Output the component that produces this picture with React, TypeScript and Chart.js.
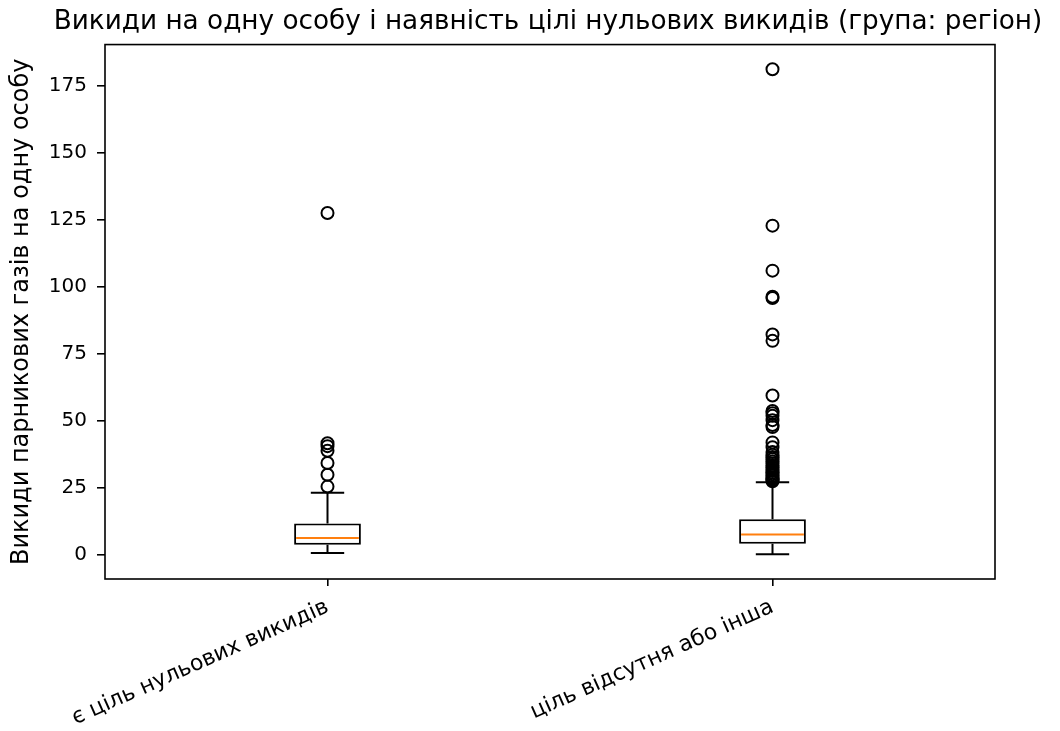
import React, { useEffect, useRef } from "react";
import { Chart, registerables } from "chart.js";

Chart.register(...registerables);

const titleText = "Викиди на одну особу і наявність цілі нульових викидів (група: регіон)";
const yAxisLabel = "Викиди парникових газів на одну особу";

const categories = ["є ціль нульових викидів", "ціль відсутня або інша"];
const q1Values = [3.7, 4.1];
const medianValues = [6.2, 7.5];
const q3Values = [11.6, 13.2];
const whiskerLow = [0.6, 0.1];
const whiskerHigh = [23.1, 27.0];
const outliersGroup1 = [25.4, 29.8, 34.2, 38.8, 40.5, 41.6, 127.5];
const outliersGroup2 = [
  27.4, 27.8, 28.3, 28.8, 29.4, 30.0, 30.6, 31.2, 31.8, 32.5, 33.2, 34.0,
  34.8, 35.6, 36.4, 37.3, 38.3, 40.1, 41.9, 47.6, 48.4, 50.2, 51.8, 52.8,
  53.6, 59.4, 79.8, 82.2, 95.8, 96.3, 106.0, 122.8, 181.2,
];
const yTicks = [0, 25, 50, 75, 100, 125, 150, 175];
const yMin = -9.1;
const yMax = 190.4;

const LW = 2;
const FONT_FAMILY = "'DejaVu Sans', sans-serif";

const boxPlugin = {
  id: "boxWhiskers",
  beforeDatasetsDraw(chart: any) {
    const { ctx } = chart;
    const x = chart.scales.x;
    const y = chart.scales.y;
    const meta = chart.getDatasetMeta(0);
    ctx.save();
    ctx.strokeStyle = "#000";
    ctx.lineWidth = LW;
    categories.forEach((_, i) => {
      const px = x.getPixelForValue(i);
      const bw = meta.data[i] ? meta.data[i].width : 66;
      const half = bw / 4;
      ctx.beginPath();
      ctx.moveTo(px, y.getPixelForValue(q3Values[i]));
      ctx.lineTo(px, y.getPixelForValue(whiskerHigh[i]));
      ctx.moveTo(px, y.getPixelForValue(q1Values[i]));
      ctx.lineTo(px, y.getPixelForValue(whiskerLow[i]));
      ctx.moveTo(px - half, y.getPixelForValue(whiskerHigh[i]));
      ctx.lineTo(px + half, y.getPixelForValue(whiskerHigh[i]));
      ctx.moveTo(px - half, y.getPixelForValue(whiskerLow[i]));
      ctx.lineTo(px + half, y.getPixelForValue(whiskerLow[i]));
      ctx.stroke();
    });
    ctx.restore();
  },
  afterDatasetsDraw(chart: any) {
    const { ctx } = chart;
    const x = chart.scales.x;
    const y = chart.scales.y;
    const meta = chart.getDatasetMeta(0);
    ctx.save();
    ctx.strokeStyle = "#ff7f0e";
    ctx.lineWidth = LW;
    categories.forEach((_, i) => {
      const px = x.getPixelForValue(i);
      const bw = meta.data[i] ? meta.data[i].width : 66;
      const py = y.getPixelForValue(medianValues[i]);
      ctx.beginPath();
      ctx.moveTo(px - bw / 2 + LW, py);
      ctx.lineTo(px + bw / 2 - LW, py);
      ctx.stroke();
    });
    ctx.restore();
  },
  afterDraw(chart: any) {
    const { ctx, chartArea } = chart;
    ctx.save();
    ctx.strokeStyle = "#000";
    ctx.lineWidth = 1.6;
    ctx.strokeRect(
      chartArea.left,
      chartArea.top,
      chartArea.right - chartArea.left,
      chartArea.bottom - chartArea.top
    );
    ctx.restore();
  },
};

export default function App() {
  const canvasRef = useRef<HTMLCanvasElement | null>(null);

  useEffect(() => {
    document.body.style.margin = "0";
    const canvas = canvasRef.current;
    if (!canvas) return;
    const chart = new Chart(canvas, {
      type: "bar",
      data: {
        labels: categories,
        datasets: [
          {
            type: "bar",
            data: categories.map((_, i) => [q1Values[i], q3Values[i]]),
            backgroundColor: "#ffffff",
            borderColor: "#000000",
            borderWidth: LW,
            borderSkipped: false,
            barPercentage: 0.15,
            categoryPercentage: 1.0,
            order: 2,
          } as any,
          {
            type: "line",
            data: [
              ...outliersGroup1.map((v) => ({ x: categories[0], y: v })),
              ...outliersGroup2.map((v) => ({ x: categories[1], y: v })),
            ],
            showLine: false,
            pointRadius: 6,
            pointHoverRadius: 6,
            pointBorderColor: "#000000",
            pointBackgroundColor: "rgba(0,0,0,0)",
            pointBorderWidth: LW,
            order: 1,
          } as any,
        ],
      },
      options: {
        responsive: false,
        animation: false,
        devicePixelRatio: 1,
        layout: { padding: { left: 46, right: 10, top: 0, bottom: 0 } },
        plugins: {
          legend: { display: false },
          tooltip: { enabled: false },
          title: {
            display: true,
            text: titleText,
            fullSize: true,
            color: "#000",
            font: { family: FONT_FAMILY, size: 26.3, weight: "normal" },
            padding: { top: 6, bottom: 7 },
          } as any,
        },
        scales: {
          x: {
            type: "category",
            offset: true,
            grid: {
              offset: false,
              drawOnChartArea: false,
              drawTicks: true,
              tickLength: 7,
              color: "#000",
              lineWidth: 1.6,
            },
            border: { display: false },
            ticks: {
              color: "#000",
              font: { family: FONT_FAMILY, size: 22 },
              minRotation: 24,
              maxRotation: 24,
              autoSkip: false,
              padding: 8,
            },
            afterFit(scale: any) {
              scale.height = 152;
            },
          },
          y: {
            type: "linear",
            position: "left",
            min: yMin,
            max: yMax,
            grid: {
              drawOnChartArea: false,
              drawTicks: true,
              tickLength: 8,
              color: "#000",
              lineWidth: 1.6,
            },
            border: { display: false },
            ticks: {
              color: "#000",
              font: { family: FONT_FAMILY, size: 20 },
              padding: 10,
            },
            afterBuildTicks(scale: any) {
              scale.ticks = yTicks.map((v) => ({ value: v }));
            },
            afterFit(scale: any) {
              scale.width = 59;
            },
            title: {
              display: true,
              text: yAxisLabel,
              color: "#000",
              font: { family: FONT_FAMILY, size: 24 },
              padding: { top: -38.4, bottom: 0 },
            },
          },
          yRight: {
            type: "linear",
            position: "right",
            display: true,
            min: 0,
            max: 1,
            grid: { display: false, drawTicks: false },
            border: { display: false },
            ticks: { display: false },
            afterFit(scale: any) {
              scale.width = 55;
            },
          },
        },
      },
      plugins: [boxPlugin],
    });
    return () => chart.destroy();
  }, []);

  return (
    <div style={{ position: "fixed", left: 0, top: 0, width: 1060, height: 731, background: "#fff" }}>
      <canvas ref={canvasRef} width={1060} height={731} />
    </div>
  );
}
